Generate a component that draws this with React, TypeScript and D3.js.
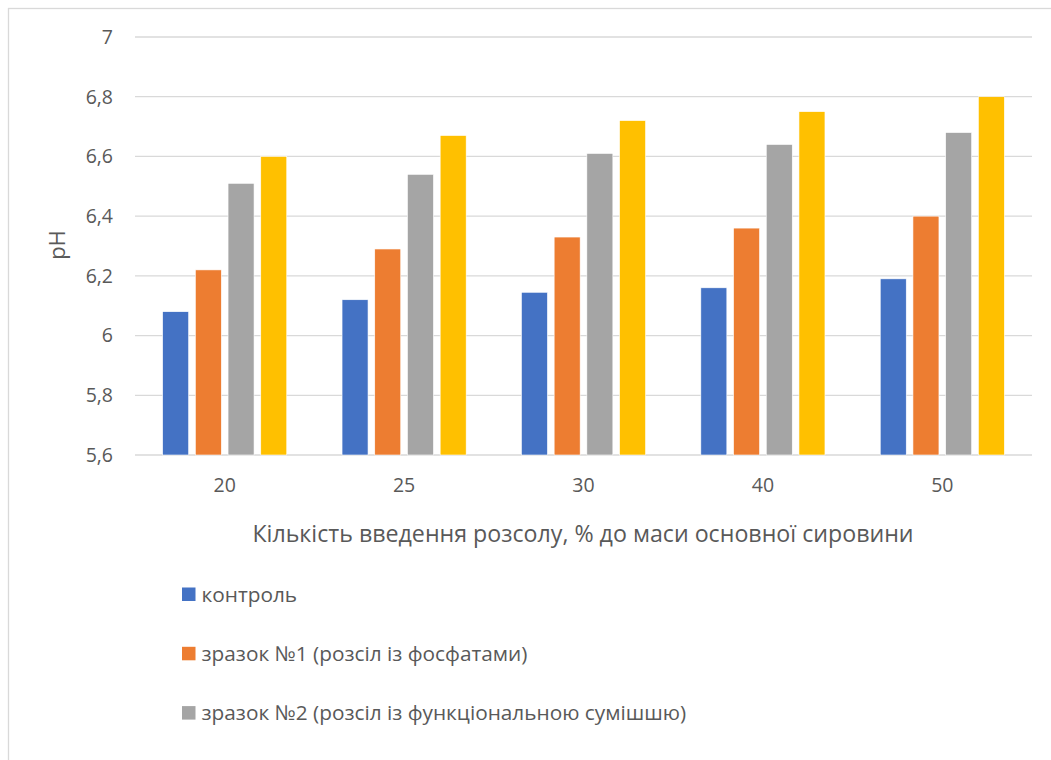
import React from "react";
import * as d3 from "d3";

const categories = ["20", "25", "30", "40", "50"];
const seriesNames = [
  "контроль",
  "зразок №1 (розсіл із фосфатами)",
  "зразок №2 (розсіл із функціональною сумішшю)",
  "зразок №3",
];
const seriesColors = ["#4472C4", "#ED7D31", "#A5A5A5", "#FFC000"];
const control = [6.08, 6.12, 6.145, 6.16, 6.19];
const sample1 = [6.22, 6.29, 6.33, 6.36, 6.4];
const sample2 = [6.51, 6.54, 6.61, 6.64, 6.68];
const sample3 = [6.6, 6.67, 6.72, 6.75, 6.8];
const yTicks = [5.6, 5.8, 6, 6.2, 6.4, 6.6, 6.8, 7];
const yLabel = "pH";
const xLabel = "Кількість введення розсолу, % до маси основної сировини";

const W = 1051;
const H = 760;
const FONT = "'Open Sans', sans-serif";
const TEXT = "#595959";
const GRID = "#D9D9D9";

export default function App() {
  const series = [control, sample1, sample2, sample3];
  const x = d3.scaleBand<string>().domain(categories).range([135, 1032]).padding(0);
  const inner = d3
    .scaleBand<number>()
    .domain([0, 1, 2, 3])
    .range([0, x.bandwidth()])
    .paddingInner(0.205)
    .paddingOuter(0.845);
  const y = d3.scaleLinear().domain([5.6, 7]).range([455, 37]);
  const fmt = (v: number) => d3.format("~g")(v).replace(".", ",");
  const legendY = (i: number) => 587.5 + i * 59.3;

  return (
    <svg
      width={W}
      height={H}
      style={{ position: "absolute", left: 0, top: 0, background: "#fff" }}
      fontFamily={FONT}
    >
      <rect x={8.5} y={8.5} width={1100} height={800} fill="#fff" stroke={GRID} strokeWidth={1.3} />
      {yTicks.map((t) => (
        <g key={t}>
          <line x1={135} x2={1032} y1={y(t)} y2={y(t)} stroke={GRID} strokeWidth={1.3} />
          <text x={113} y={y(t)} dy="0.35em" textAnchor="end" fontSize={19.5} fill={TEXT}>
            {fmt(t)}
          </text>
        </g>
      ))}
      {series.map((vals, si) =>
        vals.map((v, ci) => (
          <rect
            key={`${si}-${ci}`}
            x={(x(categories[ci]) ?? 0) + (inner(si) ?? 0)}
            y={y(v)}
            width={inner.bandwidth()}
            height={y(5.6) - y(v)}
            fill={seriesColors[si]}
            stroke="#fff"
            strokeWidth={0.6}
          />
        ))
      )}
      {categories.map((c) => (
        <text
          key={c}
          x={(x(c) ?? 0) + x.bandwidth() / 2}
          y={492}
          textAnchor="middle"
          fontSize={19.5}
          fill={TEXT}
        >
          {c}
        </text>
      ))}
      <text x={583} y={542} textAnchor="middle" fontSize={23.2} fill={TEXT}>
        {xLabel}
      </text>
      <text
        transform="translate(65,245) rotate(-90)"
        textAnchor="middle"
        fontSize={22}
        fill={TEXT}
      >
        {yLabel}
      </text>
      {seriesNames.map((name, i) =>
        legendY(i) + 14 < H ? (
          <g key={name} transform={`translate(182,${legendY(i)})`}>
            <rect x={0} y={0} width={13.5} height={13.5} fill={seriesColors[i]} />
            <text x={19.5} y={6.75} dy="0.35em" fontSize={20.8} fill={TEXT}>
              {name}
            </text>
          </g>
        ) : null
      )}
    </svg>
  );
}
